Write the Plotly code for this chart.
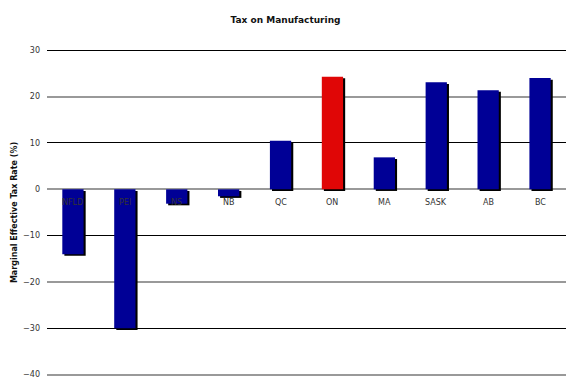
import plotly.graph_objects as go

provinces = ["NFLD", "PEI", "NS", "NB", "QC", "ON", "MA", "SASK", "AB", "BC"]
tax_rate = [-14.0, -30.0, -3.1, -1.5, 10.5, 24.3, 6.9, 23.1, 21.4, 24.0]
highlight = "ON"

tick_vals = [-40, -30, -20, -10, 0, 10, 20, 30]
black_grid = [-30, -10, 10, 30]
gray_grid = [-40, -20, 0, 20]

FONT = "DejaVu Sans, Verdana, sans-serif"
NAVY = "#000096"
RED = "#E00606"
bar_w = 0.41
sx = 0.04   # shadow horizontal shift (category units)
sy = 0.35   # shadow vertical shift (value units)

colors = [RED if p == highlight else NAVY for p in provinces]

fig = go.Figure()
# shadow
fig.add_trace(go.Bar(
    x=provinces, y=tax_rate, base=[-sy] * len(provinces),
    width=bar_w, offset=-bar_w / 2 + sx,
    marker=dict(color="black", line=dict(width=0)),
    hoverinfo="skip", showlegend=False, yaxis="y"))
# bars
fig.add_trace(go.Bar(
    x=provinces, y=tax_rate,
    width=bar_w, offset=-bar_w / 2,
    marker=dict(color=colors, line=dict(width=0)),
    showlegend=False, yaxis="y"))

annotations = [
    dict(x=p, y=0, xref="x", yref="y", text=p, showarrow=False,
         yanchor="top", yshift=-7, font=dict(family=FONT, size=8, color="#333333"))
    for p in provinces
]

rng = [-40.5, 30.5]
fig.update_layout(
    width=571, height=379,
    margin=dict(l=47, r=5, t=48, b=0),
    paper_bgcolor="white", plot_bgcolor="white",
    barmode="overlay",
    hovermode=False,
    title=dict(text="<b>Tax on Manufacturing</b>", x=0.5, xanchor="center",
               y=1 - 20 / 379, yanchor="middle", yref="container",
               font=dict(family=FONT, size=9, color="#111111")),
    font=dict(family=FONT, size=8, color="#333333"),
    xaxis=dict(type="category", range=[-0.5, len(provinces) - 0.5],
               showticklabels=False, showgrid=False, zeroline=False,
               showline=False, ticks=""),
    yaxis=dict(range=rng, tickvals=tick_vals, showgrid=False, zeroline=False,
               showline=False, ticks="", ticklabelstandoff=6,
               ticklabeloverflow="allow",
               tickfont=dict(family=FONT, size=8, color="#333333"),
               title=dict(text="<b>Marginal Effective Tax Rate (%)</b>",
                          font=dict(family=FONT, size=8, color="#111111"),
                          standoff=4)),
    yaxis2=dict(range=rng, overlaying="y", tickvals=black_grid,
                showticklabels=False, showgrid=True, gridcolor="#000000",
                gridwidth=1, zeroline=False, showline=False, ticks=""),
    yaxis3=dict(range=rng, overlaying="y", tickvals=gray_grid,
                showticklabels=False, showgrid=True, gridcolor="#999999",
                gridwidth=2, zeroline=False, showline=False, ticks=""),
    annotations=annotations,
)
# invisible traces so the overlay axes are rendered
fig.add_trace(go.Scatter(x=[provinces[0]], y=[0], yaxis="y2", mode="markers",
                         marker=dict(opacity=0), showlegend=False, hoverinfo="skip"))
fig.add_trace(go.Scatter(x=[provinces[0]], y=[0], yaxis="y3", mode="markers",
                         marker=dict(opacity=0), showlegend=False, hoverinfo="skip"))

fig.write_html("out.html")
